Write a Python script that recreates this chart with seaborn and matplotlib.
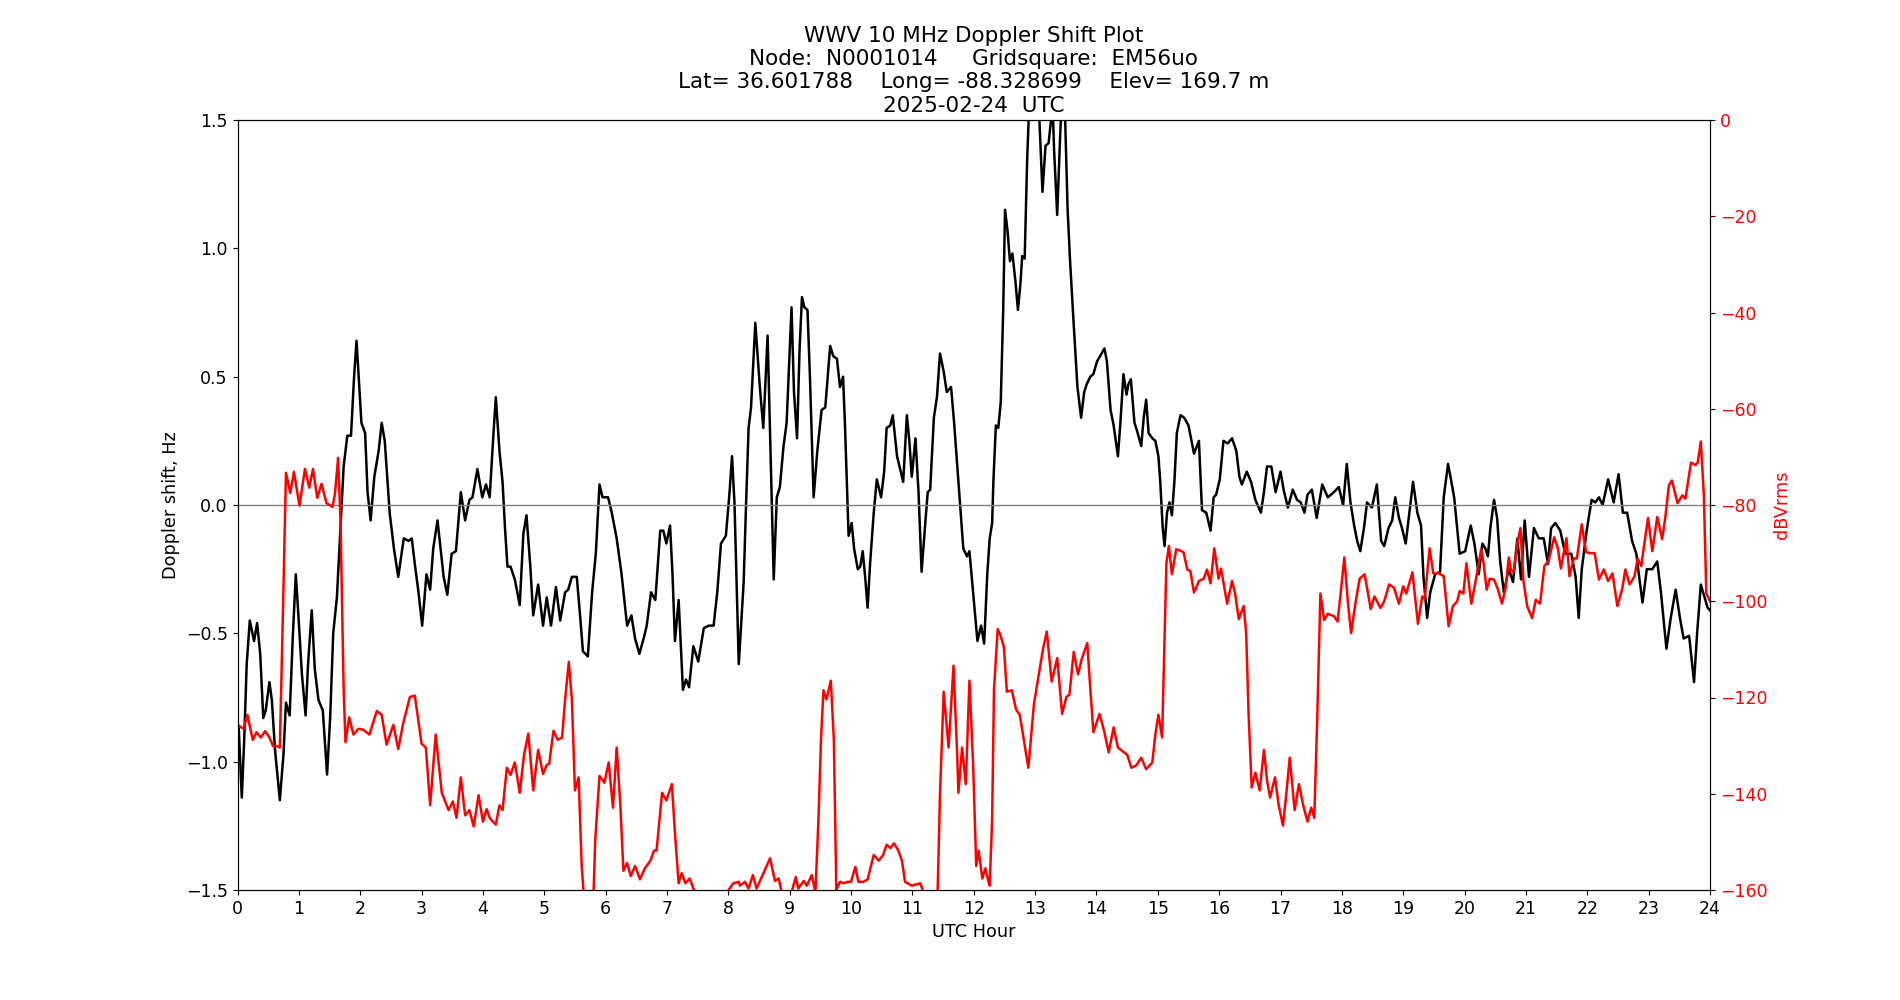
import matplotlib
matplotlib.use("Agg")
import matplotlib.pyplot as plt
import seaborn as sns
import pandas as pd

# Doppler shift (Hz) vs UTC hour
doppler_hours = [
    0.00, 0.02, 0.07, 0.11, 0.15, 0.20, 0.27, 0.32, 0.37, 0.42, 0.46, 0.52, 0.56, 0.61, 0.69, 0.75, 0.79, 0.85, 0.90, 0.95,
    0.99, 1.05, 1.11, 1.15, 1.21, 1.26, 1.32, 1.39, 1.46, 1.51, 1.56, 1.62, 1.67, 1.73, 1.79, 1.85, 1.90, 1.94, 1.99, 2.02,
    2.08, 2.12, 2.17, 2.23, 2.30, 2.35, 2.40, 2.48, 2.55, 2.62, 2.71, 2.79, 2.84, 2.89, 2.95, 3.01, 3.08, 3.14, 3.19, 3.26,
    3.31, 3.36, 3.42, 3.49, 3.56, 3.64, 3.71, 3.78, 3.83, 3.91, 3.99, 4.05, 4.11,
    4.17, 4.21, 4.27, 4.32, 4.36, 4.40, 4.45, 4.52, 4.60, 4.66, 4.71, 4.77, 4.82, 4.90, 4.98, 5.04, 5.11, 5.19, 5.26, 5.34,
    5.39, 5.45, 5.53, 5.58, 5.63, 5.71, 5.78, 5.84, 5.90, 5.95, 6.04, 6.10, 6.18, 6.26, 6.35, 6.42, 6.48, 6.55, 6.62, 6.67,
    6.74, 6.81, 6.89, 6.94, 6.99, 7.05, 7.09, 7.13, 7.19, 7.26, 7.31, 7.36, 7.43, 7.51, 7.60, 7.68, 7.76, 7.82, 7.88, 7.96,
    8.02, 8.06, 8.10, 8.17,
    8.25, 8.29, 8.33, 8.37, 8.44, 8.51, 8.57, 8.64, 8.68, 8.74, 8.79, 8.84, 8.90, 8.95, 9.03, 9.07, 9.12, 9.16, 9.20, 9.24,
    9.29, 9.33, 9.39, 9.45, 9.52, 9.58, 9.66, 9.71, 9.77, 9.82, 9.87, 9.90, 9.96, 10.01, 10.05, 10.11, 10.15, 10.19, 10.23,
    10.27, 10.31, 10.37, 10.42, 10.49, 10.54, 10.58, 10.64, 10.68, 10.75, 10.80, 10.85, 10.91, 10.95, 10.99, 11.05, 11.10,
    11.15, 11.21, 11.25, 11.29, 11.35, 11.40, 11.45, 11.51, 11.56, 11.63, 11.68, 11.75, 11.83, 11.89, 11.93, 11.99, 12.06,
    12.12, 12.17, 12.22, 12.26,
    12.30, 12.32, 12.36, 12.40, 12.44, 12.48, 12.51, 12.55, 12.59, 12.63, 12.68, 12.72, 12.76, 12.79, 12.83, 12.87, 12.91,
    12.95, 13.02, 13.07, 13.12, 13.17, 13.22, 13.26, 13.28, 13.31, 13.36, 13.41, 13.44, 13.47, 13.49, 13.53, 13.57, 13.63,
    13.69, 13.75, 13.80, 13.84, 13.90, 13.95, 14.01, 14.06, 14.13, 14.17, 14.23, 14.28, 14.35, 14.39, 14.44, 14.49, 14.52,
    14.56, 14.62, 14.66, 14.73, 14.77, 14.81, 14.85, 14.91, 14.96, 15.01, 15.04, 15.08, 15.11, 15.15, 15.19, 15.23, 15.27,
    15.31, 15.37, 15.43, 15.50, 15.59, 15.67, 15.72, 15.79, 15.86, 15.91, 15.95, 16.01, 16.07, 16.14, 16.21, 16.28, 16.33,
    16.37, 16.45, 16.52, 16.59, 16.68, 16.73, 16.78, 16.85, 16.92, 17.00, 17.05, 17.12, 17.20, 17.27, 17.33, 17.39, 17.44,
    17.51, 17.59, 17.68, 17.77, 17.87, 17.95, 18.02, 18.08, 18.14, 18.20, 18.25, 18.30, 18.36, 18.41, 18.49, 18.57, 18.64,
    18.69, 18.76, 18.82, 18.87, 18.93, 18.98, 19.04, 19.09, 19.16, 19.23, 19.29, 19.33, 19.39, 19.44, 19.52, 19.60, 19.66,
    19.73, 19.77, 19.83, 19.92, 20.01, 20.10, 20.16, 20.23, 20.29, 20.34, 20.38, 20.42,
    20.48, 20.53, 20.58, 20.64, 20.72, 20.79, 20.86, 20.92, 20.98, 21.05, 21.13, 21.21, 21.29, 21.36, 21.41, 21.48, 21.56,
    21.64, 21.74, 21.81, 21.86, 21.91, 21.99, 22.07, 22.13, 22.19, 22.25, 22.34, 22.43, 22.51, 22.58, 22.65, 22.73, 22.80,
    22.84, 22.90, 22.97, 23.06, 23.14, 23.20, 23.29, 23.36, 23.44, 23.51, 23.57, 23.66, 23.74, 23.79, 23.85, 23.90, 23.96,
    24.00,
]
doppler_hz = [
    -0.85, -0.87, -1.14, -0.91, -0.62, -0.45, -0.53, -0.46, -0.58, -0.83, -0.80, -0.69, -0.76, -0.95, -1.15, -0.97, -0.77,
    -0.82, -0.52, -0.27, -0.42, -0.66, -0.82, -0.62, -0.41, -0.64, -0.76, -0.80, -1.05, -0.83, -0.50, -0.36, -0.13, 0.15,
    0.27, 0.27, 0.50, 0.64, 0.44, 0.32, 0.28, 0.05, -0.06, 0.11, 0.21, 0.32, 0.25, -0.03, -0.17, -0.28, -0.13, -0.14, -0.13,
    -0.23, -0.34, -0.47, -0.27, -0.33, -0.17, -0.06, -0.17, -0.28, -0.35, -0.19, -0.18, 0.05, -0.06, 0.02, 0.03, 0.14, 0.03,
    0.08, 0.03,
    0.27, 0.42, 0.21, 0.09, -0.09, -0.24, -0.24, -0.29, -0.39, -0.11, -0.04, -0.23, -0.43, -0.31, -0.47, -0.36, -0.47, -0.32,
    -0.45, -0.34, -0.33, -0.28, -0.28, -0.42, -0.57, -0.59, -0.34, -0.19, 0.08, 0.03, 0.03, -0.03, -0.13, -0.27, -0.47,
    -0.43, -0.52, -0.58, -0.52, -0.47, -0.34, -0.37, -0.10, -0.10, -0.15, -0.08, -0.27, -0.53, -0.37, -0.72, -0.68, -0.71,
    -0.55, -0.61, -0.48, -0.47, -0.47, -0.34, -0.15, -0.12, 0.05, 0.19, 0.01, -0.62,
    -0.30, 0.01, 0.30, 0.38, 0.71, 0.47, 0.30, 0.66, 0.28, -0.29, 0.03, 0.07, 0.23, 0.32, 0.77, 0.44, 0.26, 0.60, 0.81, 0.77,
    0.76, 0.50, 0.03, 0.21, 0.37, 0.38, 0.62, 0.58, 0.57, 0.46, 0.50, 0.32, -0.12, -0.07, -0.17, -0.25, -0.24, -0.18, -0.28,
    -0.40, -0.23, -0.03, 0.10, 0.03, 0.13, 0.30, 0.31, 0.35, 0.19, 0.14, 0.09, 0.35, 0.25, 0.11, 0.26, 0.05, -0.26, -0.07,
    0.05, 0.06, 0.34, 0.42, 0.59, 0.52, 0.44, 0.46, 0.32, 0.09, -0.17, -0.20, -0.18, -0.34, -0.53, -0.47, -0.54, -0.27,
    -0.13,
    -0.07, 0.09, 0.31, 0.30, 0.40, 0.76, 1.15, 1.07, 0.95, 0.98, 0.87, 0.76, 0.86, 0.97, 0.96, 1.34, 1.60, 1.90, 1.80, 1.50,
    1.22, 1.40, 1.41, 1.50, 1.60, 1.38, 1.13, 1.45, 1.60, 1.70, 1.50, 1.15, 0.95, 0.70, 0.46, 0.34, 0.44, 0.47, 0.50, 0.51,
    0.56, 0.58, 0.61, 0.56, 0.37, 0.31, 0.19, 0.32, 0.51, 0.43, 0.47, 0.49, 0.32, 0.29, 0.23, 0.34, 0.41, 0.28, 0.26, 0.25,
    0.19, 0.09, -0.09, -0.16, -0.03, 0.01, -0.04, 0.09, 0.28, 0.35, 0.34, 0.31, 0.20, 0.25, -0.02, -0.03, -0.10, 0.03, 0.04,
    0.10, 0.25, 0.24, 0.26, 0.21, 0.11,
    0.08, 0.13, 0.09, 0.02, -0.03, 0.05, 0.15, 0.15, 0.05, 0.13, 0.06, -0.01, 0.06, 0.02, 0.01, -0.03, 0.04, 0.06, -0.05,
    0.08, 0.03, 0.05, 0.07, 0.00, 0.16, 0.01, -0.08, -0.14, -0.18, -0.09, 0.01, -0.01, 0.08, -0.14, -0.16, -0.09, -0.06,
    0.03, -0.05, -0.09, -0.15, -0.05, 0.09, -0.03, -0.08, -0.28, -0.44, -0.34, -0.27, -0.26, 0.03, 0.16, 0.11, 0.03, -0.19,
    -0.18, -0.08, -0.15, -0.27, -0.15, -0.17, -0.20, -0.09,
    0.02, -0.05, -0.22, -0.34, -0.25, -0.30, -0.13, -0.29, -0.06, -0.28, -0.09, -0.13, -0.13, -0.23, -0.09, -0.07, -0.10,
    -0.19, -0.19, -0.28, -0.44, -0.25, -0.10, 0.02, 0.01, 0.03, 0.00, 0.10, 0.01, 0.12, -0.03, -0.03, -0.14, -0.19, -0.27,
    -0.38, -0.25, -0.25, -0.22, -0.34, -0.56, -0.44, -0.33, -0.44, -0.52, -0.51, -0.69, -0.50, -0.31, -0.35, -0.40, -0.41,
]

# Received power (dBVrms) vs UTC hour
power_hours = [
    0.00, 0.10, 0.16, 0.25, 0.31, 0.38, 0.45, 0.52, 0.58, 0.64, 0.69, 0.74, 0.79, 0.86, 0.92, 1.01, 1.10, 1.17, 1.23, 1.30,
    1.37, 1.45, 1.55, 1.59, 1.64, 1.68, 1.73, 1.76, 1.82, 1.89, 1.97, 2.05, 2.15, 2.27, 2.35, 2.43, 2.54, 2.62, 2.70, 2.81,
    2.89, 3.00, 3.07, 3.14, 3.23, 3.33, 3.44, 3.51, 3.57, 3.64, 3.71, 3.78, 3.85, 3.93, 4.00, 4.06, 4.11,
    4.14, 4.21, 4.27, 4.32, 4.39, 4.45, 4.52, 4.60, 4.67, 4.74, 4.82, 4.90, 4.98, 5.04, 5.08, 5.15, 5.22, 5.29, 5.34, 5.40,
    5.45, 5.50, 5.56, 5.61, 5.65, 5.72, 5.80, 5.83, 5.90, 5.98, 6.05, 6.12, 6.18, 6.24, 6.29, 6.35, 6.41, 6.48, 6.56, 6.64,
    6.73, 6.79, 6.83, 6.92, 6.99, 7.08, 7.13, 7.19, 7.24, 7.30, 7.37, 7.43, 7.49, 7.60, 7.80, 7.95, 8.08, 8.17,
    8.19, 8.27, 8.33, 8.40, 8.46, 8.57, 8.68, 8.76, 8.82, 8.87, 8.95, 9.03, 9.10, 9.14, 9.23, 9.28, 9.36, 9.42, 9.47, 9.51,
    9.55, 9.60, 9.67, 9.72, 9.76, 9.82, 9.88, 9.94, 10.00, 10.07, 10.12, 10.20, 10.27, 10.37, 10.45, 10.52, 10.58, 10.64,
    10.70, 10.77, 10.83, 10.88, 10.99, 11.13, 11.18, 11.29, 11.41, 11.45, 11.51, 11.59, 11.67, 11.73, 11.75, 11.81, 11.87,
    11.93, 11.99, 12.04, 12.08, 12.14, 12.19, 12.24,
    12.26, 12.30, 12.33, 12.39, 12.43, 12.49, 12.54, 12.62, 12.69, 12.75, 12.81, 12.89, 12.98, 13.06, 13.13, 13.19, 13.27,
    13.36, 13.44, 13.51, 13.56, 13.63, 13.70, 13.76, 13.85, 13.90, 13.95, 14.05, 14.12, 14.20, 14.28, 14.35, 14.42, 14.50,
    14.57, 14.65, 14.73, 14.81, 14.91, 14.96, 15.01, 15.07, 15.11, 15.14, 15.18, 15.23, 15.30, 15.37, 15.42, 15.48, 15.53,
    15.59, 15.67, 15.75, 15.80, 15.86, 15.92, 15.99, 16.03, 16.13, 16.21, 16.26, 16.32,
    16.40, 16.44, 16.48, 16.53, 16.59, 16.66, 16.73, 16.78, 16.83, 16.91, 16.97, 17.04, 17.10, 17.15, 17.23, 17.30, 17.37,
    17.44, 17.50, 17.55, 17.60, 17.65, 17.71, 17.77, 17.87, 17.93, 17.98, 18.04, 18.10, 18.15, 18.22, 18.29, 18.37, 18.42,
    18.47, 18.53, 18.63, 18.69, 18.77, 18.85, 18.93, 19.00, 19.05, 19.15, 19.24, 19.31, 19.35, 19.43, 19.49, 19.58, 19.66,
    19.74, 19.81, 19.88, 19.92, 19.98, 20.03, 20.11, 20.18, 20.27, 20.31, 20.36, 20.41,
    20.48, 20.54, 20.61, 20.67, 20.72, 20.76, 20.80, 20.86, 20.91, 20.96, 21.02, 21.10, 21.16, 21.23, 21.30, 21.37, 21.46,
    21.52, 21.57, 21.66, 21.71, 21.78, 21.83, 21.91, 21.98, 22.05, 22.12, 22.19, 22.27, 22.34, 22.41, 22.49, 22.57, 22.62,
    22.69, 22.77, 22.82, 22.88, 22.93, 22.99, 23.06, 23.14, 23.22, 23.27, 23.33, 23.38, 23.47, 23.55, 23.60, 23.69, 23.76,
    23.80, 23.85, 23.90, 23.94, 24.00,
]
power_db = [
    -125.7, -126.5, -123.6, -128.8, -127.2, -128.3, -127.0, -128.3, -130.1, -130.1, -130.4, -102.6, -73.3, -77.5, -73.1,
    -80.1, -72.5, -76.4, -72.5, -78.5, -75.6, -79.6, -80.4, -77.5, -70.2, -83.8, -118.3, -129.3, -124.1, -127.7, -126.5,
    -126.7, -127.7, -122.8, -123.6, -129.8, -125.7, -130.7, -125.4, -119.9, -119.6, -129.6, -130.4, -142.4, -127.7, -139.8,
    -143.4, -141.6, -145.0, -136.6, -144.5, -143.4, -146.8, -140.3, -145.8, -143.2, -145.0,
    -145.5, -146.4, -142.4, -143.4, -134.6, -136.1, -133.5, -139.8, -131.9, -127.5, -139.3, -130.9, -135.9, -134.0, -133.8,
    -126.9, -128.8, -128.3, -120.4, -112.6, -120.4, -139.3, -136.6, -155.0, -162.0, -165.0, -162.0, -149.7, -136.3, -137.7,
    -133.5, -142.9, -130.4, -142.4, -156.0, -154.4, -157.1, -155.0, -157.8, -155.5, -153.9, -151.8, -151.8, -139.8, -141.4,
    -138.0, -148.2, -158.6, -156.5, -158.6, -157.6, -159.7, -161.0, -163.0, -162.0, -161.0, -158.6, -158.3,
    -159.1, -158.3, -159.7, -156.9, -159.7, -156.6, -153.4, -158.1, -157.6, -160.5, -161.0, -160.5, -157.3, -159.7, -158.1,
    -159.1, -156.9, -160.5, -145.0, -128.8, -118.5, -120.4, -116.5, -128.8, -160.0, -158.3, -158.6, -158.3, -158.3, -155.2,
    -158.3, -158.3, -157.8, -152.7, -153.9, -152.8, -150.6, -151.3, -150.3, -151.8, -153.9, -158.3, -159.1, -158.6, -160.5,
    -162.0, -161.0, -140.0, -118.8, -130.4, -113.4, -131.9, -139.8, -130.4, -138.0, -116.5, -134.0, -155.0, -151.8, -157.6,
    -155.5, -158.3,
    -159.1, -145.0, -118.3, -105.8, -106.9, -109.4, -118.8, -118.5, -122.5, -123.6, -128.3, -134.6, -121.5, -115.2, -109.9,
    -106.3, -116.7, -111.8, -123.4, -119.9, -119.4, -110.5, -115.2, -112.0, -108.7, -118.3, -127.2, -123.4, -126.7, -131.4,
    -126.2, -130.4, -131.1, -131.9, -134.6, -134.1, -132.5, -134.9, -133.5, -127.7, -123.6, -128.3, -108.0, -92.1, -88.5,
    -94.4, -89.2, -89.5, -89.8, -93.4, -93.7, -98.2, -95.8, -95.3, -93.4, -96.3, -89.0, -95.3, -93.2, -100.5, -95.8, -98.4,
    -103.7,
    -101.0, -106.6, -123.6, -138.7, -135.6, -139.3, -130.9, -137.2, -140.8, -136.6, -142.4, -146.6, -139.3, -132.5, -143.4,
    -138.0, -142.4, -145.8, -142.9, -145.0, -123.6, -98.4, -103.9, -102.6, -103.1, -104.2, -98.4, -90.9, -100.5, -106.6,
    -100.5, -95.3, -94.4, -97.9, -101.6, -99.0, -101.4, -100.0, -96.5, -97.2, -100.5, -96.9, -98.4, -94.0, -104.7, -99.0,
    -99.5, -89.0, -94.2, -94.2, -94.8, -105.2, -101.0, -100.0, -97.9, -98.4, -92.1, -100.5, -95.8, -89.2, -92.1, -97.6, -95.3,
    -95.5, -97.4, -100.5, -97.2, -90.9, -93.7, -93.9, -88.0, -84.8, -95.8, -101.0, -103.5, -99.7, -100.5, -92.7, -91.6,
    -86.7, -89.0, -93.2, -86.9, -94.8, -91.1, -91.1, -84.0, -89.8, -90.0, -90.0, -95.5, -93.4, -95.8, -94.2, -101.0, -97.4,
    -93.4, -96.5, -94.8, -91.1, -92.7, -88.0, -82.7, -89.6, -82.5, -87.1, -82.7, -75.9, -74.9, -79.6, -78.0, -78.7, -71.2,
    -71.7, -71.2, -66.8, -78.0, -98.4, -100.0,
]

x_ticks = list(range(0, 25))
doppler_ticks = [-1.5, -1.0, -0.5, 0.0, 0.5, 1.0, 1.5]
power_ticks = [0, -20, -40, -60, -80, -100, -120, -140, -160]

title_text = ("WWV 10 MHz Doppler Shift Plot\n"
              "Node:  N0001014     Gridsquare:  EM56uo\n"
              "Lat= 36.601788    Long= -88.328699    Elev= 169.7 m\n"
              "2025-02-24  UTC")

df_d = pd.DataFrame({"hour": doppler_hours, "shift": doppler_hz})
df_p = pd.DataFrame({"hour": power_hours, "power": power_db})

plt.rcParams["font.family"] = ["DejaVu Sans"]
fig, ax = plt.subplots(figsize=(19, 10), dpi=100)

sns.lineplot(data=df_d, x="hour", y="shift", ax=ax, color="black", linewidth=1.8,
             estimator=None, sort=False)
ax.axhline(0, color="gray", linewidth=1)
ax.set_xlim(0, 24)
ax.set_ylim(-1.5, 1.5)
ax.set_xticks(x_ticks)
ax.set_yticks(doppler_ticks)
ax.set_xlabel("UTC Hour", fontsize=12.7)
ax.set_ylabel("Doppler shift, Hz", fontsize=12.7)
ax.tick_params(labelsize=12.5)
ax.set_title(title_text, fontsize=15.5)

ax2 = ax.twinx()
sns.lineplot(data=df_p, x="hour", y="power", ax=ax2, color="red", linewidth=1.8,
             estimator=None, sort=False)
ax2.set_ylim(-160, 0)
ax2.set_yticks(power_ticks)
ax2.set_ylabel("dBVrms", color="red", fontsize=12.7)
ax2.tick_params(axis="y", labelcolor="red", labelsize=12.5)
ax2.set_xlim(0, 24)

fig.savefig("out.png", dpi=100)
